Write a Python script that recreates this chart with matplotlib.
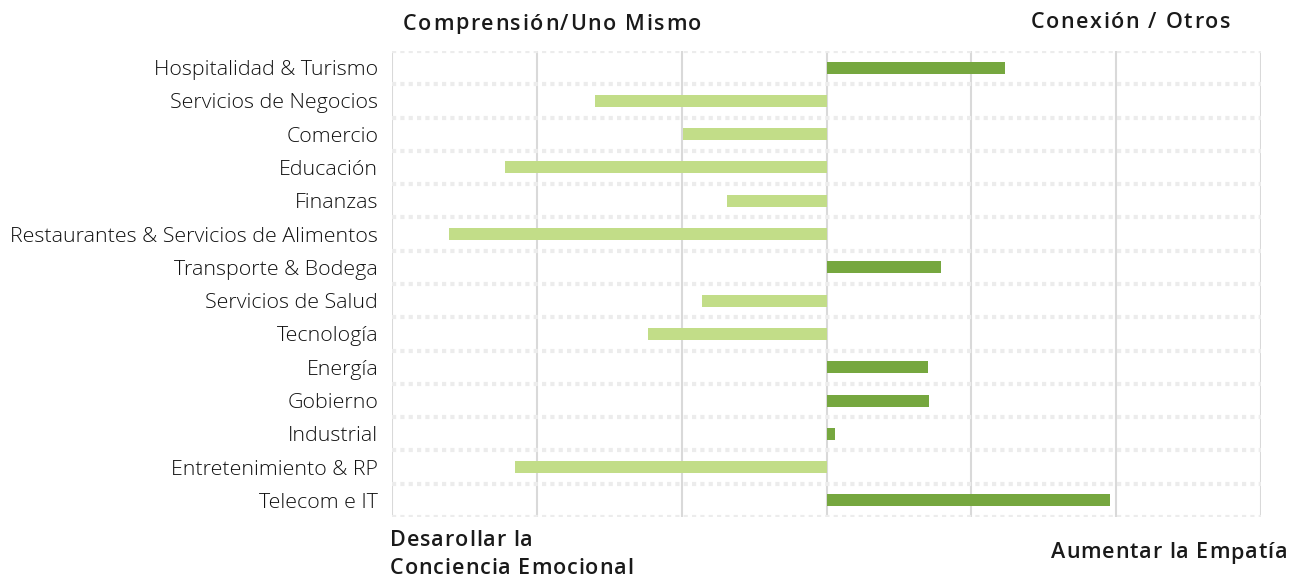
import numpy as np
import matplotlib.pyplot as plt

plt.rcParams['font.family'] = ['Open Sans', 'DejaVu Sans']

industries = ['Hospitalidad & Turismo', 'Servicios de Negocios', 'Comercio', 'Educación',
              'Finanzas', 'Restaurantes & Servicios de Alimentos', 'Transporte & Bodega',
              'Servicios de Salud', 'Tecnología', 'Energía', 'Gobierno', 'Industrial',
              'Entretenimiento & RP', 'Telecom e IT']
scores = [1.23, -1.60, -0.99, -2.22, -0.69, -2.61, 0.79, -0.86, -1.23, 0.70, 0.71, 0.06, -2.15, 1.96]

DARK = '#76a73f'
LIGHT = '#c2dd88'
W, H = 1296, 579

fig = plt.figure(figsize=(W / 100, H / 100), dpi=100)
ax = fig.add_axes([0.3025, 0.107, 0.6705, 0.805])

y = np.arange(len(industries))
colors = [DARK if s > 0 else LIGHT for s in scores]
ax.barh(y, scores, height=0.36, color=colors, zorder=3)

ax.set_xlim(-3, 3)
ax.set_ylim(len(industries) - 0.5, -0.5)
ax.set_xticks(np.arange(-3, 4))
ax.set_xticklabels([])
ax.set_yticks(y)
ax.set_yticklabels(industries, fontsize=15.4, color='#111111', fontweight='light')
ax.set_yticks(np.arange(len(industries) + 1) - 0.5, minor=True)

ax.grid(True, axis='x', color='#d9d9d9', linewidth=1.5, zorder=1)
ax.grid(True, axis='y', which='minor', color='#ececec', linewidth=3,
        linestyle=(0, (1, 1)), zorder=1)
ax.tick_params(axis='both', which='both', length=0)
ax.tick_params(axis='y', pad=10)
for s in ax.spines.values():
    s.set_visible(False)

# headers are letter-spaced in the original, so place them char by char
renderer = fig.canvas.get_renderer()
hdr = dict(fontsize=15.5, color='#1a1a1a', fontweight='semibold')


def text_width(s):
    t = fig.text(0, 0, s, **hdr)
    w = t.get_window_extent(renderer).width
    t.remove()
    return w


def spaced_text(x_px, y_px, s, ha='left', tracking=1.5):
    base = text_width('ii')
    advances = [text_width('i' + ch + 'i') - base for ch in s]
    total = sum(advances) + tracking * (len(s) - 1)
    x = x_px - total if ha == 'right' else x_px
    for ch, adv in zip(s, advances):
        fig.text(x / W, 1 - y_px / H, ch, ha='left', va='center', **hdr)
        x += adv + tracking


spaced_text(403, 24, 'Comprensión/Uno Mismo', tracking=1.6)
spaced_text(1230, 22, 'Conexión / Otros', ha='right', tracking=1.6)
spaced_text(390, 540, 'Desarollar la', tracking=0.9)
spaced_text(390, 568, 'Conciencia Emocional', tracking=0.9)
spaced_text(1287, 553, 'Aumentar la Empatía', ha='right', tracking=0.9)

fig.savefig('out.png', dpi=100)
